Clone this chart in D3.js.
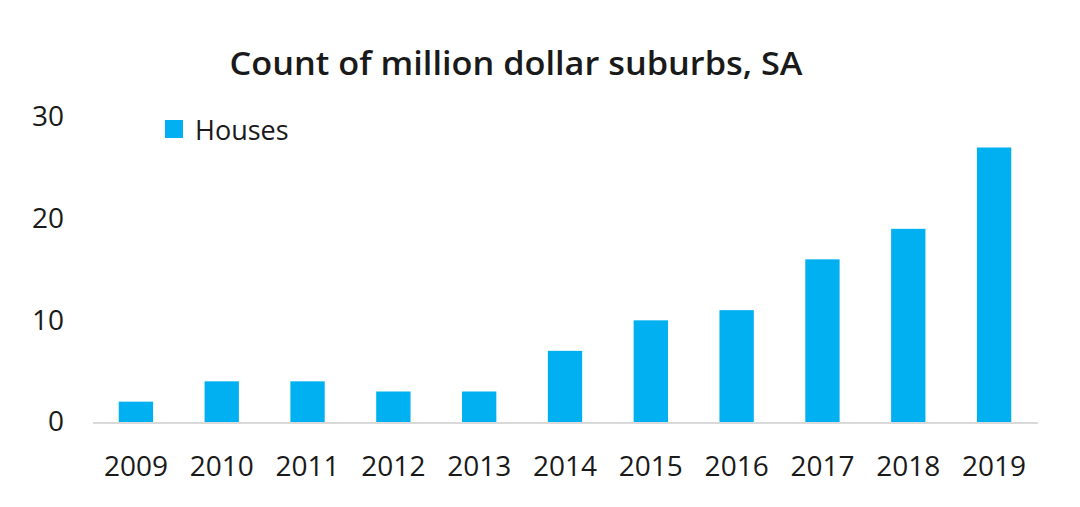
<!DOCTYPE html>
<html><head><meta charset="utf-8">
<script src="https://cdn.jsdelivr.net/npm/d3@7"></script>
<style>body{margin:0;background:#fff}svg{display:block}text{font-family:"Open Sans",sans-serif;fill:#1a1a1a}</style>
</head><body><svg id="c" width="1080" height="507"></svg>
<script>
const years = ["2009","2010","2011","2012","2013","2014","2015","2016","2017","2018","2019"];
const houses = [2,4,4,3,3,7,10,11,16,19,27];
const yTicks = [0,10,20,30];
const title = "Count of million dollar suburbs, SA";
const seriesName = "Houses";

const svg = d3.select("#c");
const x = d3.scaleBand().domain(years).range([93,1037]).paddingInner(0.6).paddingOuter(0.3);
const y = d3.scaleLinear().domain([0,30]).range([422,117]);

svg.append("text").attr("x",516).attr("y",75).attr("text-anchor","middle")
  .style("font-size","32px").style("font-weight","600").attr("textLength",573).attr("lengthAdjust","spacingAndGlyphs").text(title);

svg.selectAll("rect.bar").data(houses).join("rect").attr("class","bar")
  .attr("x",(d,i)=>x(years[i])).attr("width",x.bandwidth())
  .attr("y",d=>y(d)).attr("height",d=>y(0)-y(d)).attr("fill","#00b0f0");

svg.append("line").attr("x1",93).attr("x2",1038).attr("y1",y(0)+1).attr("y2",y(0)+1)
  .attr("stroke","#d9d9d9").attr("stroke-width",2);

const ya = svg.append("g").attr("transform","translate(64,0)")
  .call(d3.axisLeft(y).tickValues(yTicks).tickSize(0).tickPadding(0));
ya.select(".domain").remove();
ya.selectAll("text").style("font-size","28px").style("font-family","'Open Sans',sans-serif").attr("fill","#1a1a1a");

const xa = svg.append("g").attr("transform","translate(0,456)")
  .call(d3.axisBottom(x).tickSize(0).tickPadding(0));
xa.select(".domain").remove();
xa.selectAll("text").style("font-size","28px").style("font-family","'Open Sans',sans-serif").attr("fill","#1a1a1a").attr("dy","0.71em");

svg.append("rect").attr("x",165).attr("y",120).attr("width",18).attr("height",18).attr("fill","#00b0f0");
svg.append("text").attr("x",195).attr("y",140).style("font-size","27px").text(seriesName);
</script></body></html>
